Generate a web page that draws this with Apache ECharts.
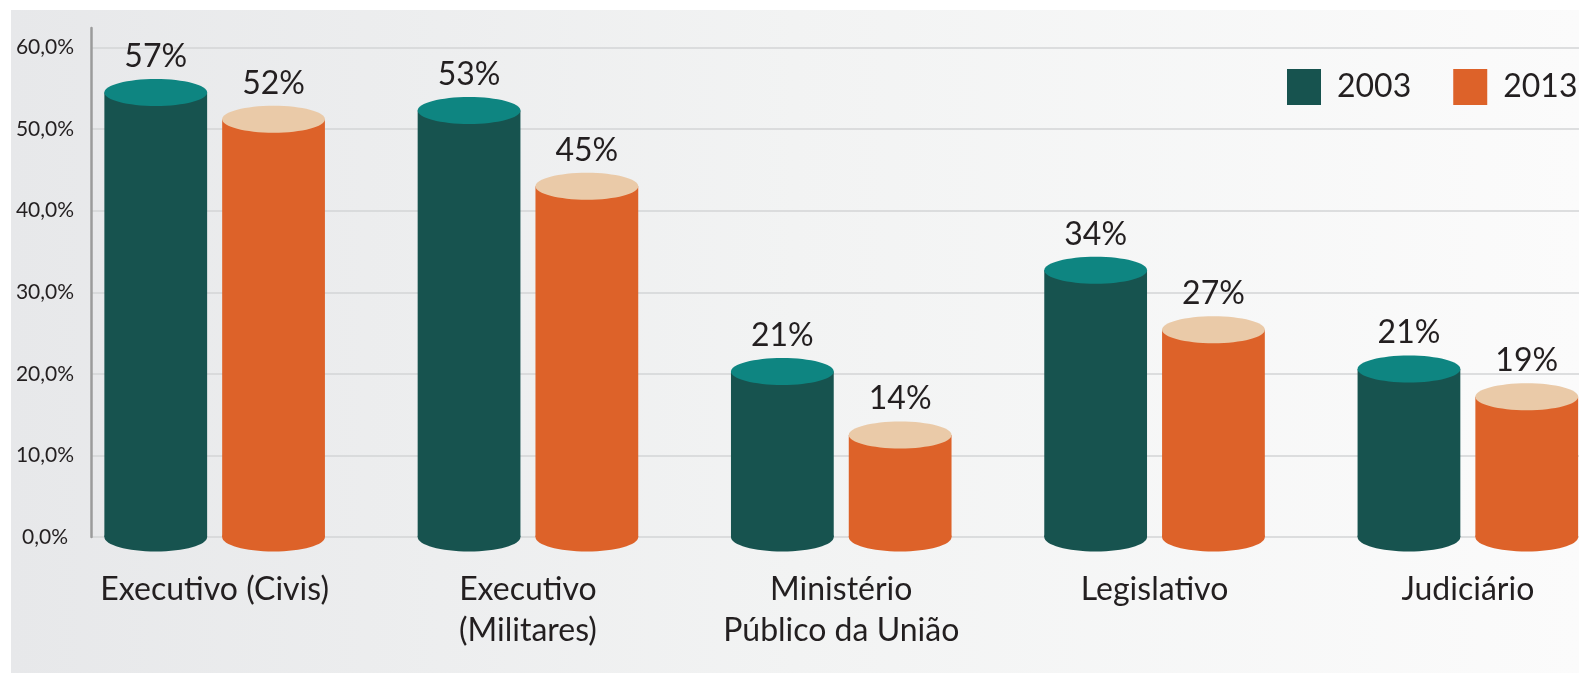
<!DOCTYPE html>
<html>
<head>
<meta charset="utf-8">
<title>Servidores 2003 x 2013</title>
<script src="https://cdn.jsdelivr.net/npm/echarts@6/dist/echarts.min.js"></script>
<style>
  html, body { margin: 0; padding: 0; background: #fff; }
  #main { width: 1579px; height: 673px; }
</style>
</head>
<body>
<div id="main"></div>
<script>
// categorias do eixo x
var categorias = ['Executivo (Civis)', 'Executivo\n(Militares)', 'Ministério\nPúblico da União', 'Legislativo', 'Judiciário'];
var anos = ['2003', '2013'];
// altura dos cilindros como aparecem no gráfico (%)
var valores2003 = [54.5, 52.3, 20.3, 32.7, 20.6];
var valores2013 = [51.2, 43.0, 12.5, 25.4, 17.2];
// rótulos impressos acima de cada cilindro
var rotulos2003 = ['57%', '53%', '21%', '34%', '21%'];
var rotulos2013 = ['52%', '45%', '14%', '27%', '19%'];

var fonte = 'Lato';
var corTexto = '#231f20';

var myChart = echarts.init(document.getElementById('main'));

// desenha um cilindro (corpo + base + tampa) e o rótulo em cima
function cilindro(lado, corCorpo, corTampa, rotulos) {
  return function (params, api) {
    var cat = api.value(0);
    var topo = api.coord([cat, api.value(1)]);
    var base = api.coord([cat, 0]);
    var banda = api.size([1, 0])[0];
    var largura = banda * 0.328;
    var cx = topo[0] + lado * banda * 0.188;
    var rx = largura / 2;
    var ry = 13.5;
    return {
      type: 'group',
      children: [
        {
          type: 'ellipse',
          shape: { cx: cx, cy: base[1], rx: rx, ry: ry + 1 },
          style: { fill: corCorpo }
        },
        {
          type: 'rect',
          shape: { x: cx - rx, y: topo[1], width: largura, height: base[1] - topo[1] },
          style: { fill: corCorpo }
        },
        {
          type: 'ellipse',
          shape: { cx: cx, cy: topo[1], rx: rx, ry: ry },
          style: { fill: corTampa }
        },
        {
          type: 'text',
          x: cx,
          y: topo[1] - 36,
          style: {
            text: rotulos[params.dataIndex],
            fill: corTexto,
            font: '32px ' + fonte,
            align: 'center',
            verticalAlign: 'middle'
          }
        }
      ]
    };
  };
}

function pares(valores) {
  var out = [];
  for (var i = 0; i < valores.length; i++) {
    out.push([i, valores[i]]);
  }
  return out;
}

myChart.setOption({
  animation: false,
  textStyle: { fontFamily: fonte },
  graphic: [
    {
      type: 'rect',
      left: 11,
      top: 10,
      z: -10,
      shape: { width: 1568, height: 663 },
      style: {
        fill: new echarts.graphic.LinearGradient(0, 0, 1, 0, [
          { offset: 0, color: '#e7e8ea' },
          { offset: 0.5, color: '#f2f3f3' },
          { offset: 1, color: '#fbfbfb' }
        ])
      }
    }
  ],
  legend: {
    data: anos,
    orient: 'horizontal',
    left: 1287,
    top: 69,
    width: 400,
    padding: 0,
    icon: 'rect',
    itemWidth: 34,
    itemHeight: 36,
    itemGap: 42,
    textStyle: {
      fontSize: 32,
      color: corTexto,
      fontFamily: fonte,
      padding: [0, 0, 0, 11]
    }
  },
  grid: [
    // grade das colunas (faixas de categoria), passa da borda direita
    { left: 58, width: 1566.5, top: 28, bottom: 136, outerBoundsMode: 'none' },
    // grade do eixo y visível
    { left: 91, right: 0, top: 28, bottom: 136, outerBoundsMode: 'none' }
  ],
  xAxis: [
    {
      type: 'category',
      gridIndex: 0,
      data: categorias,
      axisLine: { show: false },
      axisTick: { show: false },
      axisLabel: {
        margin: 32,
        fontSize: 32,
        lineHeight: 41,
        color: corTexto,
        fontFamily: fonte,
        interval: 0
      }
    },
    { type: 'value', gridIndex: 1, min: 0, max: 1, show: false }
  ],
  yAxis: [
    { type: 'value', gridIndex: 0, min: 0, max: 62.4, show: false },
    {
      type: 'value',
      gridIndex: 1,
      min: 0,
      max: 62.4,
      interval: 10,
      axisLine: { show: true, lineStyle: { color: '#9b9b9b', width: 2.5 } },
      axisTick: { show: false },
      axisLabel: {
        showMaxLabel: false,
        align: 'center',
        margin: 46,
        fontSize: 21,
        color: corTexto,
        fontFamily: fonte,
        formatter: function (v) {
          return v.toFixed(1).replace('.', ',') + '%';
        }
      },
      splitLine: {
        show: true,
        showMaxLine: false,
        lineStyle: { color: '#d3d4d6', width: 1.5 }
      }
    }
  ],
  series: [
    {
      name: '2003',
      type: 'custom',
      xAxisIndex: 0,
      yAxisIndex: 0,
      itemStyle: { color: '#17534f' },
      renderItem: cilindro(-1, '#17534f', '#0e8581', rotulos2003),
      encode: { x: 0, y: 1 },
      data: pares(valores2003)
    },
    {
      name: '2013',
      type: 'custom',
      xAxisIndex: 0,
      yAxisIndex: 0,
      itemStyle: { color: '#dd6229' },
      renderItem: cilindro(1, '#dd6229', '#eacaa8', rotulos2013),
      encode: { x: 0, y: 1 },
      data: pares(valores2013)
    }
  ]
});
</script>
</body>
</html>
